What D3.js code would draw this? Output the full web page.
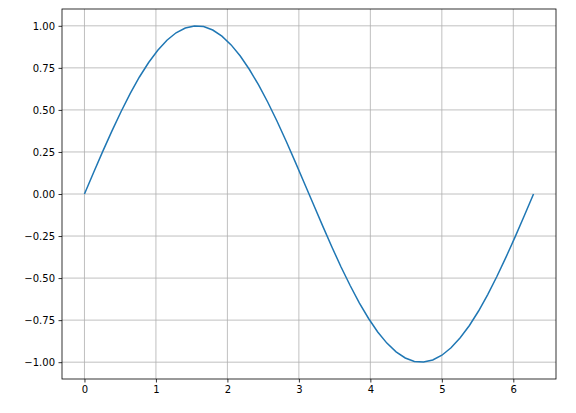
<!DOCTYPE html>
<html><head><meta charset="utf-8">
<script src="https://cdn.jsdelivr.net/npm/d3@7"></script>
<style>body{margin:0;background:#fff}svg{font-family:"DejaVu Sans",sans-serif}</style>
</head><body>
<script>
const xs=[0,0.128,0.256,0.385,0.513,0.641,0.769,0.898,1.026,1.154,1.282,1.411,1.539,1.667,1.795,1.923,2.052,2.180,2.308,2.436,2.565,2.693,2.821,2.949,3.077,3.206,3.334,3.462,3.590,3.719,3.847,3.975,4.103,4.231,4.360,4.488,4.616,4.744,4.873,5.001,5.129,5.257,5.386,5.514,5.642,5.770,5.898,6.027,6.155,6.283];
const ysPos=[0,0.1279,0.2537,0.3753,0.4907,0.5981,0.6957,0.7818,0.8551,0.9144,0.9587,0.9872,0.9995,0.9954,0.9749,0.9385,0.8866,0.8202,0.7403,0.6482,0.5455,0.4339,0.3151,0.1912,0.0641];
const ysNeg=[-0.0641,-0.1912,-0.3151,-0.4339,-0.5455,-0.6482,-0.7403,-0.8202,-0.8866,-0.9385,-0.9749,-0.9954,-0.9995,-0.9872,-0.9587,-0.9144,-0.8551,-0.7818,-0.6957,-0.5981,-0.4907,-0.3753,-0.2537,-0.1279,0];
const ys=ysPos.concat(ysNeg);
const xTicks=[0,1,2,3,4,5,6];
const yTicks=[-1,-0.75,-0.5,-0.25,0,0.25,0.5,0.75,1];
const W=576,H=413,L=62,R=556,T=9,B=379;
const svg=d3.select("body").append("svg").attr("width",W).attr("height",H);
const x=d3.scaleLinear().domain([-0.31416,6.59734]).range([L,R]);
const y=d3.scaleLinear().domain([-1.1,1.1]).range([B,T]);
const g=svg.append("g");
g.selectAll(".gx").data(xTicks).join("line").attr("x1",d=>x(d)).attr("x2",d=>x(d)).attr("y1",T).attr("y2",B).attr("stroke","#b0b0b0").attr("stroke-width",0.8);
g.selectAll(".gy").data(yTicks).join("line").attr("y1",d=>y(d)).attr("y2",d=>y(d)).attr("x1",L).attr("x2",R).attr("stroke","#b0b0b0").attr("stroke-width",0.8);
svg.append("path").datum(xs.map((v,i)=>[v,ys[i]])).attr("d",d3.line().x(d=>x(d[0])).y(d=>y(d[1]))).attr("fill","none").attr("stroke","#1f77b4").attr("stroke-width",1.5);
const fmt=d=>d3.format(".2f")(d).replace("-","−");
const ax=svg.append("g").attr("transform",`translate(0,${B})`).call(d3.axisBottom(x).tickValues(xTicks).tickFormat(d3.format("d")).tickSize(3.5).tickPadding(3.5));
const ay=svg.append("g").attr("transform",`translate(${L},0)`).call(d3.axisLeft(y).tickValues(yTicks).tickFormat(fmt).tickSize(3.5).tickPadding(3.5));
[ax,ay].forEach(a=>{a.select(".domain").remove();a.selectAll("text").attr("font-size",10).attr("fill","#000").attr("font-family","DejaVu Sans");a.selectAll("line").attr("stroke","#000").attr("stroke-width",0.8);});
svg.append("rect").attr("x",L).attr("y",T).attr("width",R-L).attr("height",B-T).attr("fill","none").attr("stroke","#000").attr("stroke-width",0.8);
</script></body></html>
